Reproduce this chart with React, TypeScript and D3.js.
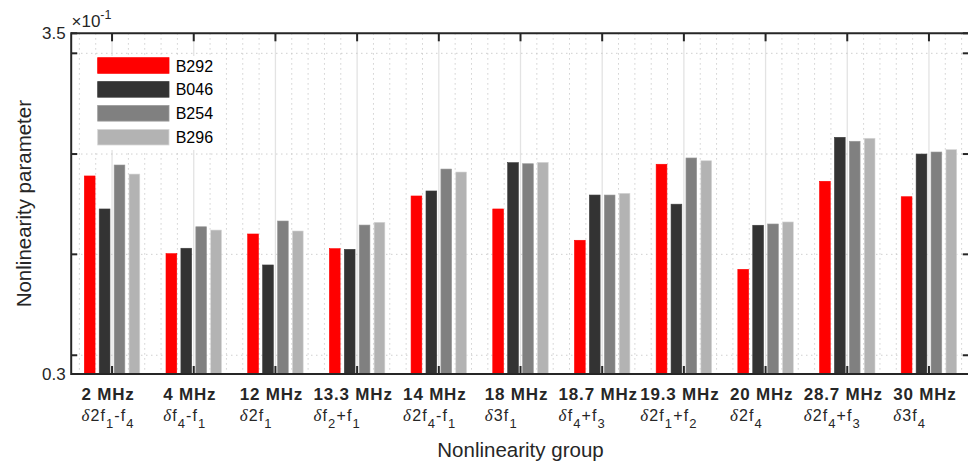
import React, { useLayoutEffect, useRef } from 'react';
import * as d3 from 'd3';

const groups = ['2 MHz', '4 MHz', '12 MHz', '13.3 MHz', '14 MHz', '18 MHz', '18.7 MHz', '19.3 MHz', '20 MHz', '28.7 MHz', '30 MHz'];
const combos = ['δ2f_1-f_4', 'δf_4-f_1', 'δ2f_1', 'δf_2+f_1', 'δ2f_4-f_1', 'δ3f_1', 'δf_4+f_3', 'δ2f_1+f_2', 'δ2f_4', 'δ2f_4+f_3', 'δ3f_4'];
const seriesNames = ['B292', 'B046', 'B254', 'B296'];
const seriesColors = ['#ff0000', '#333333', '#808080', '#b3b3b3'];
const b292 = [2.16, 1.43, 1.615, 1.477, 1.972, 1.85, 1.556, 2.27, 1.283, 2.11, 1.965];
const b046 = [1.85, 1.481, 1.324, 1.471, 2.019, 2.285, 1.981, 1.895, 1.697, 2.523, 2.366];
const b254 = [2.263, 1.683, 1.737, 1.699, 2.225, 2.275, 1.981, 2.329, 1.709, 2.486, 2.385];
const b296 = [2.178, 1.652, 1.643, 1.725, 2.197, 2.288, 1.997, 2.303, 1.728, 2.514, 2.407];
const seriesValues = [b292, b046, b254, b296];
const yTickValues = [0.3, 0.476, 1.424, 2.366, 3.312, 3.5];
const yTickLabels = ['0.3', '', '', '', '', '3.5'];
const yDomain = [0.3, 3.5];

const W = 968;
const H = 464;
const L = 71.2, R = 969.8, T = 33.3, B = 374;
const AX = '#262626';
const FONT = '"Liberation Sans", Arial, Helvetica, sans-serif';
const SUB_DY = 7;

function parseCombo(s: string) {
  const segs: { t: string; sub: boolean }[] = [];
  let i = 0;
  let buf = '';
  while (i < s.length) {
    if (s[i] === '_') {
      if (buf) segs.push({ t: buf, sub: false });
      buf = '';
      segs.push({ t: s[i + 1], sub: true });
      i += 2;
    } else {
      buf += s[i];
      i++;
    }
  }
  if (buf) segs.push({ t: buf, sub: false });
  return segs;
}

export default function App() {
  const labelRef = useRef<SVGGElement>(null);

  const x = d3.scaleLinear().domain([-0.5, groups.length - 0.5]).range([L, R]);
  const step = x(1) - x(0);
  const inner = d3.scaleBand<string>().domain(seriesNames).range([-0.365 * step, 0.365 * step]).paddingInner(0.28).paddingOuter(0.14);
  const y = d3.scaleLinear().domain(yDomain).range([B, T]);

  const minorX: number[] = [];
  for (let v = -0.4; v < groups.length - 0.5; v += 0.2) {
    const r = Math.round(v * 10) / 10;
    if (Math.abs(r - Math.round(r)) > 1e-6) minorX.push(r);
  }

  useLayoutEffect(() => {
    const g = labelRef.current;
    if (!g) return;
    const items = g.querySelectorAll('g.lab');
    items.forEach((el: any, i: number) => {
      const w = el.getBBox().width;
      el.setAttribute('transform', `translate(${x(i) - w / 2 - 4},0)`);
    });
  }, []);

  return (
    <svg width={W} height={H} style={{ position: 'absolute', left: 0, top: 0, background: '#fff' }} fontFamily={FONT}>
      <rect x={L} y={T} width={R - L} height={B - T} fill="#fff" />
      {minorX.map((v, i) => (
        <line key={'mx' + i} x1={x(v)} x2={x(v)} y1={T} y2={B} stroke="#c4c4c4" strokeWidth={1} strokeDasharray="1.2,3.8" />
      ))}
      {groups.map((g, i) => (
        <line key={'gx' + i} x1={x(i)} x2={x(i)} y1={T} y2={B} stroke="#e3e3e3" strokeWidth={1.3} />
      ))}
      {yTickValues.slice(1, -1).map((v, i) => (
        <line key={'gy' + i} x1={L} x2={R} y1={y(v)} y2={y(v)} stroke="#c4c4c4" strokeWidth={1} strokeDasharray="1.2,3.8" />
      ))}
      {seriesValues.map((vals, s) => (
        <g key={'s' + s}>
          {vals.map((v, i) => (
            <rect
              key={i}
              x={x(i) + (inner(seriesNames[s]) as number)}
              y={y(v)}
              width={inner.bandwidth()}
              height={B - y(v)}
              fill={seriesColors[s]}
              stroke={d3.color(seriesColors[s])!.brighter(0.5).formatHex()}
              strokeWidth={0.6}
            />
          ))}
        </g>
      ))}
      <rect x={89} y={56} width={131} height={94} fill="#fff" />
      {seriesNames.map((n, i) => (
        <g key={'lg' + i} transform={`translate(97.7,${57.7 + i * 23.9})`}>
          <rect x={0} y={0} width={71.3} height={15.6} fill={seriesColors[i]} stroke={d3.color(seriesColors[i])!.brighter(0.5).formatHex()} strokeWidth={0.8} />
          <text x={78} y={13.8} fontSize={16} fill="#000">{n}</text>
        </g>
      ))}
      <g stroke={AX} strokeWidth={2} fill="none">
        <line x1={L} x2={R} y1={T} y2={T} />
        <line x1={L} x2={R} y1={B} y2={B} />
        <line x1={L} x2={L} y1={T - 1} y2={B + 1} />
        <line x1={R} x2={R} y1={T - 1} y2={B + 1} />
        {groups.map((g, i) => (
          <g key={'xt' + i}>
            <line x1={x(i)} x2={x(i)} y1={T} y2={T + 8} />
            <line x1={x(i)} x2={x(i)} y1={B} y2={B - 8} />
          </g>
        ))}
        {yTickValues.map((v, i) => (
          <g key={'yt' + i}>
            <line x1={L} x2={L + 6} y1={y(v)} y2={y(v)} />
            <line x1={R} x2={R - 7} y1={y(v)} y2={y(v)} />
          </g>
        ))}
      </g>
      {yTickValues.map((v, i) =>
        yTickLabels[i] ? (
          <text key={'yl' + i} x={L - 5.5} y={y(v) + 6} fontSize={17} textAnchor="end" fill={AX}>
            {yTickLabels[i]}
          </text>
        ) : null
      )}
      <text x={71.5} y={26.5} fontSize={17} fill={AX}>
        ×10<tspan dy={-7.5} fontSize={12.5}>-1</tspan>
      </text>
      <g ref={labelRef}>
        {groups.map((g, i) => {
          const segs = parseCombo(combos[i]);
          return (
            <g key={'xl' + i} className="lab" transform={`translate(${x(i) - 30},0)`}>
              <text x={0} y={400.3} fontSize={17} fontWeight="bold" letterSpacing={0.8} fill={AX}>
                {g}
              </text>
              <text x={0} y={421} fontSize={16} fill={AX} letterSpacing={1.1}>
                {segs.map((seg, k) => {
                  const prevSub = k > 0 && segs[k - 1].sub;
                  if (seg.sub) {
                    return (
                      <tspan key={k} fontSize={13} dy={SUB_DY}>
                        {seg.t}
                      </tspan>
                    );
                  }
                  if (seg.t.startsWith('δ')) {
                    return (
                      <React.Fragment key={k}>
                        <tspan dy={prevSub ? -SUB_DY : 0} fontFamily='"Liberation Serif", "Times New Roman", serif' fontStyle="italic" fontSize={17}>
                          δ
                        </tspan>
                        <tspan>{seg.t.slice(1)}</tspan>
                      </React.Fragment>
                    );
                  }
                  return (
                    <tspan key={k} dy={prevSub ? -SUB_DY : 0}>
                      {seg.t}
                    </tspan>
                  );
                })}
              </text>
            </g>
          );
        })}
      </g>
      <text x={(L + R) / 2} y={457.3} fontSize={20.5} textAnchor="middle" fill={AX}>
        Nonlinearity group
      </text>
      <text transform={`translate(30.5,${(T + B) / 2}) rotate(-90)`} fontSize={20.5} textAnchor="middle" fill={AX}>
        Nonlinearity parameter
      </text>
    </svg>
  );
}
